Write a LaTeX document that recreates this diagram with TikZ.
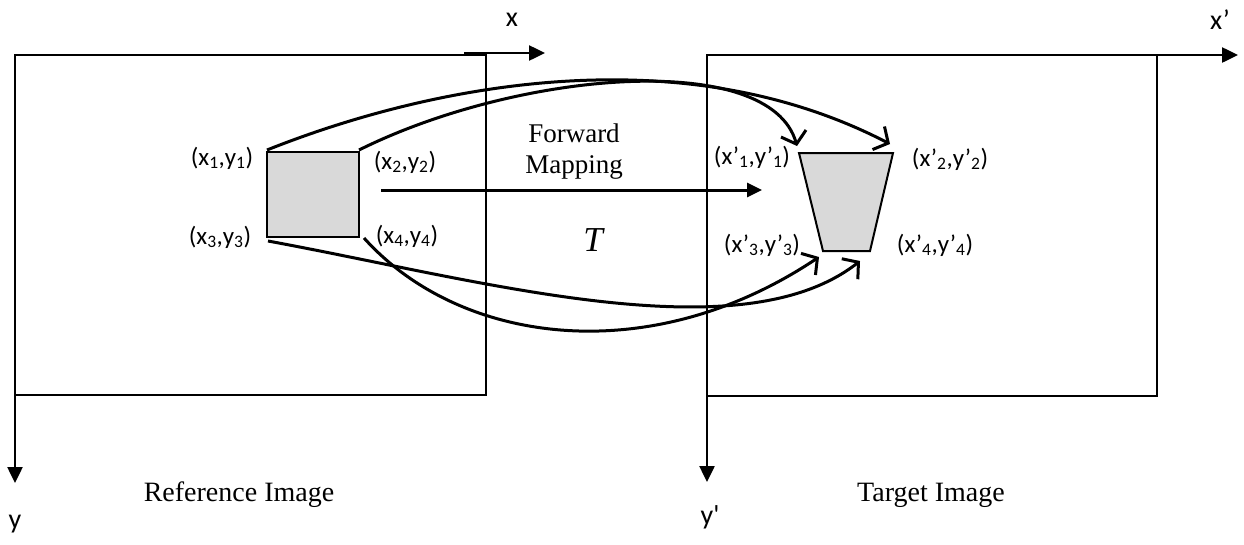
\documentclass[tikz,border=0pt]{standalone}
\usepackage{fontspec}
\newfontfamily\calfont{Carlito}
\newfontfamily\timesfont{Liberation Serif}
\usetikzlibrary{arrows.meta}

\begin{document}
\begin{tikzpicture}[x=1pt,y=-1pt,
  frame/.style={line width=2pt},
  axis/.style={line width=2.5pt,-{Triangle[length=16pt,width=15pt]}},
  mapline/.style={line width=3pt,-{Straight Barb[length=11pt,width=26pt]}},
  patch/.style={line width=2pt,fill=black!15},
  coordlabel/.style={font=\calfont\fontsize{25}{29}\selectfont},
  axislabel/.style={font=\calfont\fontsize{28}{32}\selectfont},
  caption/.style={font=\timesfont\fontsize{28}{32}\selectfont}]
  \useasboundingbox (0,0) rectangle (1244,544);
  % Reference image frame and its axes
  \draw[frame] (15,55) rectangle (486,395);
  \coordinate (xs) at (464,53);
  \coordinate (xe) at (545,53);
  \coordinate (ys) at (15,395);
  \coordinate (ye) at (15,483);
  \draw[axis] (xs) -- (xe);
  \draw[axis] (ys) -- (ye);
  \node[axislabel] (xlab) at (512,20) {x};
  \node[axislabel] (ylab) at (15,524) {y};
  \node[caption] (refcap) at (239,495) {Reference Image};
  % Target image frame and its axes
  \draw[frame] (707,55) rectangle (1157,396);
  \coordinate (xps) at (1157,55);
  \coordinate (xpe) at (1238,55);
  \coordinate (yps) at (707,396);
  \coordinate (ype) at (707,482);
  \draw[axis] (xps) -- (xpe);
  \draw[axis] (yps) -- (ype);
  \node[axislabel] (xplab) at (1220,20) {x’};
  \node[axislabel] (yplab) at (710,517) {y'};
  \node[caption] (tgtcap) at (931,495) {Target Image};
  % Source square and target quad
  \draw[patch] (267,152) rectangle (359,237);
  \draw[patch] (799,153) -- (893,153) -- (870,251) -- (823,251) -- cycle;
  \coordinate (p1) at (267,150);
  \coordinate (p2) at (359,150);
  \coordinate (p3) at (268,241);
  \coordinate (p4) at (364,238);
  \coordinate (q1) at (797,146);
  \coordinate (q2) at (890,144);
  \coordinate (q3) at (819,257);
  \coordinate (q4) at (860,261);
  % Corner labels
  \node[coordlabel] (l1) at (222,158) {(x\textsubscript{1},y\textsubscript{1})};
  \node[coordlabel] (l2) at (405,162) {(x\textsubscript{2},y\textsubscript{2})};
  \node[coordlabel] (l3) at (220,237) {(x\textsubscript{3},y\textsubscript{3})};
  \node[coordlabel] (l4) at (407,236) {(x\textsubscript{4},y\textsubscript{4})};
  \node[coordlabel] (m1) at (752,157) {(x’\textsubscript{1},y’\textsubscript{1})};
  \node[coordlabel] (m2) at (950,159) {(x’\textsubscript{2},y’\textsubscript{2})};
  \node[coordlabel] (m3) at (762,245) {(x’\textsubscript{3},y’\textsubscript{3})};
  \node[coordlabel] (m4) at (935,245) {(x’\textsubscript{4},y’\textsubscript{4})};
  % Forward mapping arrow
  \coordinate (fs) at (381,190);
  \coordinate (fe) at (762,190);
  \draw[line width=3pt,-{Triangle[length=15pt,width=14pt]}] (fs) -- (fe);
  \node[caption,align=center,font=\timesfont\fontsize{27}{31}\selectfont] (fwd) at (574,152) {Forward\\Mapping};
  \node[font=\timesfont\itshape\fontsize{35}{40}\selectfont] (tlab) at (593,240) {T};
  % Corner correspondences
  \draw[mapline] (p1) .. controls (430,85) and (680,35) .. (q2);
  \draw[mapline] (p2) .. controls (520,70) and (770,50) .. (q1);
  \draw[mapline] (p3) .. controls (480,280) and (740,355) .. (q4);
  \draw[mapline] (p4) .. controls (460,345) and (650,370) .. (q3);
\end{tikzpicture}
\end{document}
